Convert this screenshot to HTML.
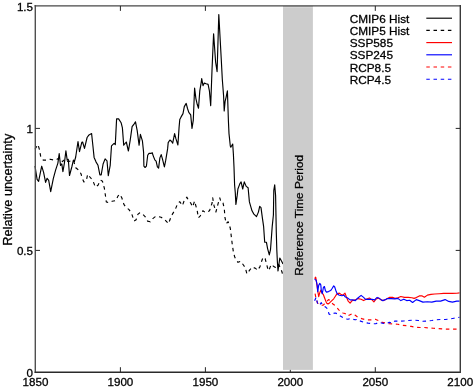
<!DOCTYPE html>
<html><head><meta charset="utf-8"><style>
html,body{margin:0;padding:0;background:#fff;}
body{width:475px;height:389px;overflow:hidden;}
svg{display:block;font-family:"Liberation Sans",sans-serif;font-size:11.6px;}
.t{opacity:0.999;will-change:transform;}
</style></head><body>
<svg width="475" height="389" viewBox="0 0 475 389">
<rect width="475" height="389" fill="#fff"/>
<g fill="none" stroke-linejoin="round" stroke-linecap="butt">
<polyline points="35.0,149.3 37.9,144.6 39.4,149.3 40.9,157.7 43.3,160.1 46.3,160.1 50.2,159.3 54.0,160.1 57.1,159.3 59.5,157.7 62.5,161.6 64.9,159.3 68.0,161.6 71.0,160.8 73.4,160.1 75.7,167.8 78.8,170.1 81.1,174.0 81.9,177.5 83.9,182.0 86.4,180.1 87.7,174.3 90.3,177.5 92.9,180.7 95.4,187.1 98.0,185.2 100.6,180.1 102.5,181.3 104.4,188.4 105.7,197.4 106.3,201.9 108.3,202.6 112.1,201.3 116.0,200.6 117.9,196.1 119.8,194.2 121.9,198.0 123.9,204.4 125.8,207.0 129.0,209.6 131.6,213.4 134.1,221.1 136.1,219.8 138.0,214.1 139.9,212.8 142.5,214.1 145.1,216.6 147.6,221.1 150.2,221.8 152.8,218.6 155.3,216.6 158.6,216.6 161.1,217.3 164.3,219.2 168.5,223.7 171.4,215.8 175.3,209.4 177.9,203.0 179.8,201.7 182.4,205.6 184.3,200.4 186.9,197.2 188.8,201.1 190.7,203.0 192.6,206.9 194.6,201.1 195.8,205.6 197.1,210.1 198.4,217.8 200.3,215.8 202.9,210.7 205.5,212.6 209.5,210.8 212.1,203.0 212.7,197.9 214.0,205.6 215.9,212.0 217.9,204.3 219.8,197.9 221.1,202.4 223.0,203.0 224.3,208.8 224.9,217.1 226.2,223.6 228.2,221.8 230.3,228.2 231.3,236.5 232.3,244.7 233.4,251.9 234.6,256.6 235.7,259.3 238.0,262.3 240.7,261.2 243.4,265.0 245.3,267.7 246.9,273.9 248.0,272.4 250.0,269.7 252.3,267.0 255.8,268.5 257.3,270.4 259.9,266.9 261.2,262.4 263.1,257.2 265.1,258.5 266.3,263.0 267.6,268.1 268.9,270.7 270.2,266.9 271.5,264.3 273.4,266.2 275.5,267.5 278.6,264.3 280.5,268.0 282.0,272.0 283.0,276.0" stroke="#000" stroke-width="1.15" stroke-dasharray="3.5 3.7"/>
<polyline points="35.0,166.0 37.1,179.4 38.6,181.4 41.7,166.2 43.6,172.4 45.6,182.4 47.1,178.3 48.7,180.4 50.7,191.7 53.3,178.6 55.6,170.1 57.9,163.1 59.2,153.6 60.5,165.5 61.8,163.9 62.9,171.6 64.4,163.1 65.9,150.8 67.2,160.1 68.3,159.3 69.5,175.5 71.8,167.0 73.4,160.1 74.4,161.6 75.7,157.0 78.0,141.5 79.5,151.6 81.8,142.3 82.6,142.0 84.5,148.4 87.1,137.5 89.0,134.9 91.6,133.6 92.9,145.8 94.1,157.4 96.1,162.1 98.0,165.3 99.9,174.9 101.2,174.9 103.1,164.0 105.1,158.9 107.0,160.8 108.3,175.6 110.2,165.3 111.5,145.8 114.1,143.3 115.3,144.6 116.6,118.9 118.6,118.9 121.1,122.7 122.4,127.9 123.7,145.2 126.3,142.0 128.4,151.0 130.1,140.8 132.1,126.7 134.0,124.1 135.5,121.8 137.2,130.6 139.1,145.3 140.4,134.4 142.4,140.8 143.6,152.4 143.9,166.2 145.1,167.5 146.4,166.2 147.7,155.3 149.0,153.4 150.9,153.4 152.2,152.7 153.5,156.6 154.8,159.8 156.1,161.1 157.4,166.9 158.6,168.1 159.9,157.9 161.2,154.6 162.5,159.1 164.4,166.9 165.7,160.4 167.6,148.9 168.2,142.6 169.9,140.0 171.4,141.3 172.7,143.2 174.6,133.6 175.9,138.7 177.9,145.0 179.1,127.1 179.8,119.4 181.1,116.9 183.0,113.6 184.3,106.6 186.2,103.4 187.5,108.5 188.8,112.4 190.7,114.9 192.0,128.4 193.3,120.1 194.6,88.0 195.9,98.6 197.2,104.3 198.5,108.2 199.8,90.8 201.1,83.1 201.7,78.6 203.0,85.7 204.3,83.1 206.2,83.8 208.1,84.4 209.4,90.8 210.7,105.6 212.0,70.3 213.6,33.8 215.6,62.0 216.5,67.7 217.1,71.6 218.8,14.5 221.3,60.0 222.3,79.3 223.6,96.0 224.2,111.0 225.1,101.4 226.1,97.3 227.4,90.8 228.4,120.7 229.0,133.6 230.3,146.0 230.8,147.2 232.7,144.0 233.4,154.3 234.0,167.1 234.6,185.0 235.3,192.9 235.9,204.4 237.2,195.4 237.9,189.0 239.8,183.9 241.1,181.9 242.7,189.0 244.3,181.9 246.2,186.4 248.1,187.7 249.4,201.9 252.0,210.8 253.9,214.1 256.5,216.6 258.4,212.1 259.7,206.3 261.0,207.6 262.3,217.3 263.6,226.3 264.7,242.2 266.4,242.2 267.6,248.6 269.3,254.9 270.5,249.7 272.2,226.6 273.4,215.0 273.8,190.3 274.7,184.8 275.6,195.6 276.3,232.4 276.8,249.7 277.4,262.0 278.0,271.0 279.8,258.0 281.5,261.0 283.0,264.0" stroke="#000" stroke-width="1.15"/>
<polyline points="315.1,293.7 316.2,299.5 317.7,303.2 320.3,304.8 322.9,305.3 325.4,303.0 328.5,299.6 330.6,300.7 332.6,303.7 334.7,305.3 336.7,307.3 338.8,309.9 340.8,312.0 342.9,313.0 345.0,313.5 347.6,316.0 350.1,314.7 352.7,313.4 355.3,315.3 357.9,317.3 361.7,318.6 365.6,319.8 368.8,319.8 372.0,319.8 375.2,319.2 378.4,320.5 382.3,322.4 386.1,323.1 389.3,323.7 393.5,323.9 397.9,324.2 402.3,325.4 406.7,325.7 411.2,326.4 415.6,327.2 420.0,327.5 424.4,327.5 428.8,327.9 433.3,328.3 437.7,328.6 442.1,328.9 446.5,329.1 450.9,329.1 455.4,329.1 459.5,329.1" stroke="#f00" stroke-width="1.15" stroke-dasharray="3.5 3.7"/>
<polyline points="314.6,300.7 316.2,297.1 317.7,304.3 319.3,305.3 321.3,302.7 322.9,305.3 325.9,307.3 327.5,308.9 329.0,314.0 330.6,315.0 333.1,313.5 335.2,313.0 337.8,314.0 340.3,316.1 342.9,317.6 345.5,318.9 348.0,319.2 350.1,318.6 352.7,319.2 355.3,319.8 357.9,319.2 360.4,321.1 364.3,322.4 368.1,323.1 372.0,323.7 375.8,323.7 379.1,322.4 382.3,323.1 386.1,323.7 389.3,322.4 392.6,323.1 394.9,321.0 399.4,321.3 403.8,321.0 408.2,320.5 414.1,320.1 418.5,320.5 422.9,321.3 427.4,321.0 431.8,320.5 436.2,319.8 440.6,319.5 445.1,319.5 449.5,319.1 453.9,318.2 459.5,317.3" stroke="#00f" stroke-width="1.15" stroke-dasharray="3.5 3.7"/>
<polyline points="314.6,278.7 315.7,277.2 316.7,283.4 317.7,290.6 318.7,296.7 319.8,292.6 320.8,290.1 321.8,292.6 323.4,294.7 324.9,298.8 326.5,302.9 328.0,303.9 329.5,302.9 331.6,300.8 333.7,298.8 335.7,295.7 337.2,293.7 339.3,293.1 340.8,294.2 342.9,295.2 345.0,293.1 346.3,296.7 348.2,301.2 350.1,303.1 352.1,300.6 355.3,299.9 357.9,298.6 361.1,299.3 363.6,300.6 366.2,299.3 369.4,298.0 372.0,299.9 373.9,301.9 375.8,299.3 378.4,298.0 381.0,299.9 383.6,300.6 386.1,299.3 389.3,297.4 392.6,297.4 394.9,298.4 397.9,297.7 400.8,296.5 404.5,297.4 408.2,297.4 411.9,297.7 414.1,298.4 416.3,297.6 419.3,295.9 422.2,295.9 424.4,297.2 427.4,295.1 431.0,294.4 434.7,294.0 439.2,293.7 443.6,293.4 448.0,293.4 452.4,293.4 456.8,293.2 459.5,292.9" stroke="#f00" stroke-width="1.15"/>
<polyline points="314.6,279.3 316.2,280.3 317.2,285.4 317.7,291.6 318.7,285.4 319.8,283.4 320.8,284.9 321.3,290.6 322.3,293.7 323.4,287.5 324.4,286.5 325.4,290.6 326.5,292.1 328.5,291.6 330.6,290.6 332.1,288.5 333.7,285.9 334.7,287.0 336.2,291.6 337.2,293.7 339.3,295.2 341.9,295.7 343.9,295.2 345.0,296.7 347.6,298.0 350.1,299.9 352.7,299.9 355.3,300.6 357.9,298.0 361.1,295.4 363.6,297.4 365.6,299.3 368.8,299.3 372.0,299.3 374.6,299.9 377.1,297.4 379.7,298.6 382.3,300.6 384.8,299.9 387.4,298.6 391.3,298.6 394.9,298.9 397.9,298.4 400.8,300.6 403.8,299.2 406.7,300.6 409.7,300.3 412.6,302.5 416.3,299.6 419.3,300.6 422.9,302.1 427.4,301.8 431.8,302.1 436.2,301.1 440.6,301.1 445.1,299.6 448.7,301.4 452.4,302.1 456.8,301.1 459.5,301.1" stroke="#00f" stroke-width="1.15"/>
</g>
<g stroke="#262626" stroke-width="1" fill="none">
<line x1="35.3" y1="5.1" x2="35.3" y2="373" stroke="#505050" stroke-width="1.4"/>
<line x1="34.6" y1="5.9" x2="461" y2="5.9" stroke="#474747" stroke-width="1.4"/>
<line x1="34.6" y1="372.3" x2="461" y2="372.3" stroke="#2a2a2a" stroke-width="1.4"/>
<line x1="460.3" y1="5.1" x2="460.3" y2="373" stroke="#3a3a3a" stroke-width="1.4"/>
<line x1="120.4" y1="372.2" x2="120.4" y2="367.2"/><line x1="120.4" y1="5.9" x2="120.4" y2="10.9"/><line x1="205.4" y1="372.2" x2="205.4" y2="367.2"/><line x1="205.4" y1="5.9" x2="205.4" y2="10.9"/><line x1="290.3" y1="372.2" x2="290.3" y2="367.2"/><line x1="375.3" y1="372.2" x2="375.3" y2="367.2"/><line x1="375.3" y1="5.9" x2="375.3" y2="10.9"/><line x1="35.5" y1="128.4" x2="40.0" y2="128.4"/><line x1="460.2" y1="128.4" x2="455.7" y2="128.4"/><line x1="35.5" y1="250.4" x2="40.0" y2="250.4"/><line x1="460.2" y1="250.4" x2="455.7" y2="250.4"/>
</g>
<rect x="283" y="7.2" width="29.9" height="362.7" fill="#cccccc"/>
<line x1="283" y1="5.9" x2="312.9" y2="5.9" stroke="#747474" stroke-width="1.4"/>
<g fill="#000" class="t" stroke="#000" stroke-width="0.3">
<text x="35.5" y="385.8" text-anchor="middle">1850</text><text x="120.4" y="385.8" text-anchor="middle">1900</text><text x="205.4" y="385.8" text-anchor="middle">1950</text><text x="290.3" y="385.8" text-anchor="middle">2000</text><text x="375.3" y="385.8" text-anchor="middle">2050</text><text x="460.2" y="385.8" text-anchor="middle">2100</text>
<text x="33" y="377.0" text-anchor="end">0</text><text x="33" y="254.9" text-anchor="end">0.5</text><text x="33" y="132.5" text-anchor="end">1</text><text x="33" y="11.0" text-anchor="end">1.5</text>
<text transform="translate(11.9,189.7) rotate(-90)" text-anchor="middle" font-size="12.76">Relative uncertainty</text>
<text transform="translate(302.9,215.3) rotate(-90)" text-anchor="middle" font-size="11.8">Reference Time Period</text>
<text x="349.7" y="22.7" font-size="11.8">CMIP6 Hist</text><line x1="426.3" y1="18.2" x2="452" y2="18.2" stroke="#000" stroke-width="1.15"/><text x="349.7" y="34.9" font-size="11.8">CMIP5 Hist</text><line x1="426.3" y1="30.4" x2="452" y2="30.4" stroke="#000" stroke-width="1.15" stroke-dasharray="3.5 3.7"/><text x="349.7" y="47.1" font-size="11.8">SSP585</text><line x1="426.3" y1="42.6" x2="452" y2="42.6" stroke="#f00" stroke-width="1.15"/><text x="349.7" y="59.3" font-size="11.8">SSP245</text><line x1="426.3" y1="54.8" x2="452" y2="54.8" stroke="#00f" stroke-width="1.15"/><text x="349.7" y="71.5" font-size="11.8">RCP8.5</text><line x1="426.3" y1="67.0" x2="452" y2="67.0" stroke="#f00" stroke-width="1.15" stroke-dasharray="3.5 3.7"/><text x="349.7" y="83.7" font-size="11.8">RCP4.5</text><line x1="426.3" y1="79.2" x2="452" y2="79.2" stroke="#00f" stroke-width="1.15" stroke-dasharray="3.5 3.7"/>
</g>
</svg>
</body></html>
